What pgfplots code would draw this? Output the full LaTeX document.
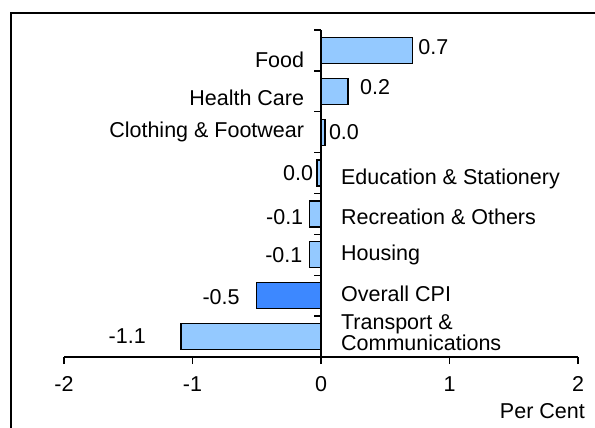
\documentclass[border=0pt]{standalone}
\usepackage{fontspec}
\setmainfont{Liberation Sans}
\usepackage{pgfplots}
\pgfplotsset{compat=1.18}

\definecolor{barlight}{RGB}{148,201,255}
\definecolor{bardark}{RGB}{61,136,255}
\newcommand{\chartfont}{\fontsize{21.5bp}{20.5bp}\selectfont}

\pgfplotsset{
  lbl/.style={only marks, mark=none,
    point meta=explicit symbolic, nodes near coords,
    every node near coord/.append style={anchor=#1, font=\chartfont,
      inner sep=0pt, align=left, black}},
  bars/.style={xbar, bar shift=0pt, bar width=26bp, fill=#1, draw=black, line width=1.3bp},
}

\begin{document}
\begin{tikzpicture}
\useasboundingbox (0,0) rectangle (595bp,428bp);
\draw[line width=1.5bp] (11bp,-5bp) -- (11bp,415bp) -- (600bp,415bp);
\begin{axis}[
  at={(64bp,71bp)}, anchor=south west,
  scale only axis, width=514bp, height=327bp,
  xmin=-2, xmax=2, ymin=-0.5, ymax=7.5,
  axis x line=bottom, axis y line=middle,
  axis line style={-, line width=1.3bp, black},
  tick align=center, major tick length=7bp,
  tick style={black, line width=1.3bp},
  xtick style={yshift=-3.5bp},
  ytick style={xshift=-3.5bp},
  xtick={-2,-1,0,1,2}, xticklabels={-2,-1,0,1,2},
  ytick={-0.5,0.5,...,7.5}, yticklabels={,,,,,,,,},
  xticklabel style={font=\chartfont, inner sep=0pt, anchor=north, yshift=-16bp},
  every axis x label/.style={at={(rel axis cs:1,0)}, anchor=north east,
    xshift=7bp, yshift=-46bp, inner sep=0pt, font=\chartfont},
  xlabel={Per Cent},
  clip=false,
]
% 7 Food, 6 Health Care, 5 Clothing, 4 Education, 3 Recreation, 2 Housing, 1 Overall CPI, 0 Transport
\addplot[bars=barlight] coordinates {
  (0.71,7) (0.21,6) (0.03,5) (-0.03,4) (-0.09,3) (-0.09,2) (-1.09,0)
};
\addplot[bars=bardark] coordinates {(-0.50,1)};

% value labels
\addplot[lbl=west] coordinates {
  (0.757,7.073) [0.7]
  (0.303,6.098) [0.2]
  (0.061,5) [0.0]
};
\addplot[lbl=east] coordinates {
  (-0.061,4) [0.0]
  (-0.137,2.927) [-0.1]
  (-0.144,2) [-0.1]
  (-0.632,0.963) [-0.5]
  (-1.362,0) [-1.1]
};

% category names
\addplot[lbl=east] coordinates {
  (-0.13,6.78) [Food]
  (-0.13,5.85) [Health Care]
  (-0.13,5) [Clothing \& Footwear]
};
\addplot[lbl=west] coordinates {
  (0.155,3.853) [Education \& Stationery]
  (0.155,2.927) [Recreation \& Others]
  (0.155,2) [Housing]
  (0.155,1.049) [Overall CPI]
  (0.155,0.098) [{Transport \&\\Communications}]
};
\end{axis}
\end{tikzpicture}
\end{document}
